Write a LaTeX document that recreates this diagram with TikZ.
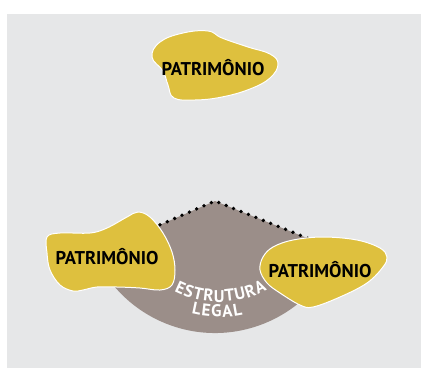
\documentclass[tikz,border=0pt]{standalone}
\usepackage{fontspec}
\setmainfont{PT Sans}
\usetikzlibrary{decorations.text}
\definecolor{fundo}{RGB}{230,231,232}
\definecolor{ouro}{RGB}{222,192,62}
\definecolor{taupe}{RGB}{155,142,137}
\newcommand\legalfont{\fontsize{17}{17}\selectfont\bfseries}

\begin{document}
\begin{tikzpicture}[x=1pt,y=1pt,
	mancha/.style={fill=ouro,draw=white,line width=1pt},
	rotulo/.style={font=\fontsize{18.5}{18.5}\selectfont\bfseries,text=black,inner sep=0pt,anchor=base},
	curvo/.style={decorate,decoration={text along path,text align=fit to path,text color=white,text={|\legalfont|#1}}},
	pontilhado/.style={draw=black,line width=3.8pt,line cap=round,dash pattern=on 0pt off 8pt}]
	\useasboundingbox (0,0) rectangle (421,-368);
	\fill[fundo] (7,-14) rectangle (421,-368);

	\coordinate (apice) at (215,-201);
	\coordinate (centroTexto) at (219,-203);
	\path (apice) ++(203.4:132) coordinate (esq);
	\path (apice) ++(338.1:132) coordinate (dir);
	\fill[taupe] (esq) -- (apice) -- (dir) arc[start angle=338.1,end angle=203.4,radius=132] -- cycle;
	\draw[pontilhado] (esq) -- (apice) -- (dir);

	% manchas
	\draw[mancha] plot[smooth cycle,tension=0.7] coordinates {(152,-57) (160,-42) (183,-33) (208,-31) (222,-38) (248,-47) (270,-54) (278,-64) (270,-78) (250,-89) (222,-97) (195,-100) (174,-98) (168,-85) (163,-71)};
	\draw[mancha] plot[smooth cycle,tension=0.6] coordinates {(47,-237) (60,-233) (90,-233) (107,-228) (127,-217) (138,-212) (150,-217) (163,-233) (172,-252) (175,-270) (172,-285) (160,-290) (140,-288) (117,-287) (97,-287) (83,-290) (73,-291) (60,-285) (50,-270) (47,-253)};
	\draw[mancha] plot[smooth cycle,tension=0.6] coordinates {(260,-270) (263,-257) (273,-247) (293,-240) (323,-237) (357,-240) (380,-248) (387,-257) (383,-267) (367,-283) (340,-297) (313,-307) (300,-305) (280,-293) (267,-283)};

	% estrutura legal
	\path[curvo=ESTRUTURA] (centroTexto) ++(243:99) arc[start angle=243,end angle=299,radius=99];
	\path[curvo=LEGAL] (centroTexto) ++(256:114) arc[start angle=256,end angle=282,radius=114];

	\node[rotulo] (patrimonioTopo) at (213,-75) {PATRIMÔNIO};
	\node[rotulo] (patrimonioEsq) at (107,-264) {PATRIMÔNIO};
	\node[rotulo] (patrimonioDir) at (320,-277) {PATRIMÔNIO};
\end{tikzpicture}
\end{document}
